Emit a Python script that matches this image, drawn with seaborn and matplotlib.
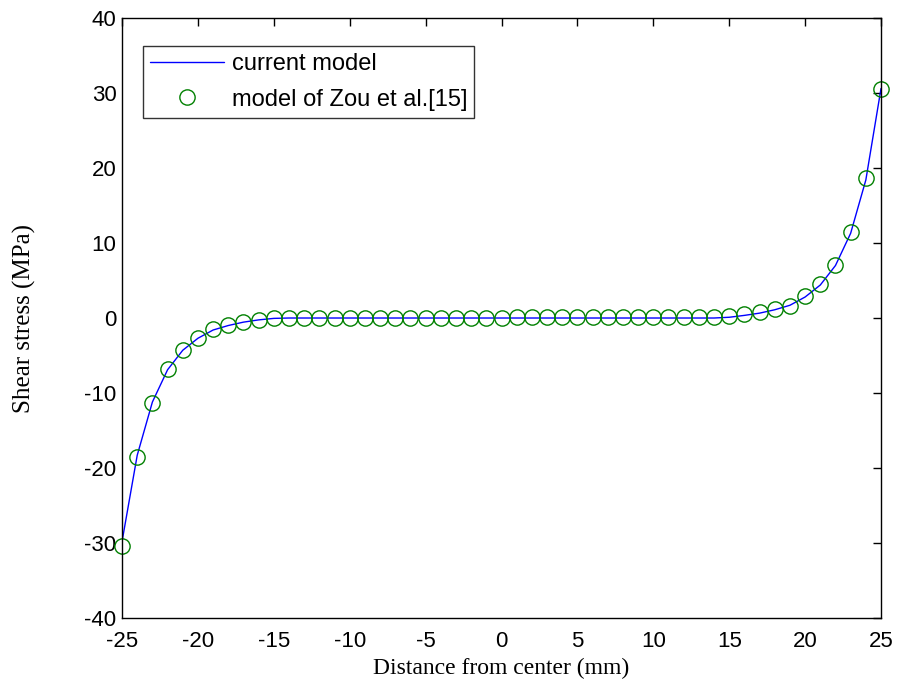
import numpy as np
import pandas as pd
import seaborn as sns
import matplotlib.pyplot as plt

# distance from center (mm)
distance = list(range(-25, 26))

# shear stress of the current model (MPa)
current_model = [-29.8, -18.3, -11.2, -6.9, -4.3, -2.7, -1.6, -1.0, -0.55, -0.25,
                 -0.05, 0.0, 0.0, 0.0, 0.0, 0.0, 0.0, 0.0, 0.0, 0.0,
                 0.0, 0.0, 0.0, 0.0, 0.0, 0.0, 0.0, 0.0, 0.0, 0.0,
                 0.0, 0.0, 0.0, 0.0, 0.0, 0.0, 0.0, 0.0, 0.0, 0.0,
                 0.1, 0.35, 0.65, 1.1, 1.7, 2.8, 4.4, 7.0, 11.3, 18.4, 30.6]

# shear stress of the model of Zou et al. (MPa)
zou_model = [-30.4, -18.5, -11.3, -6.8, -4.3, -2.6, -1.5, -0.95, -0.5, -0.2,
             0.0, 0.05, 0.05, 0.05, 0.05, 0.05, 0.05, 0.05, 0.05, 0.05,
             0.05, 0.05, 0.05, 0.05, 0.05, 0.05, 0.1, 0.1, 0.1, 0.1,
             0.1, 0.1, 0.1, 0.1, 0.1, 0.1, 0.1, 0.1, 0.1, 0.1,
             0.3, 0.5, 0.75, 1.2, 1.65, 2.9, 4.5, 7.05, 11.5, 18.7, 30.6]

df = pd.DataFrame({'distance': distance, 'current': current_model, 'zou': zou_model})

sns.set_style("white")
plt.rcParams['font.family'] = ['Liberation Sans', 'DejaVu Sans']
plt.rcParams['axes.unicode_minus'] = False
plt.rcParams['text.color'] = 'black'
plt.rcParams['axes.labelcolor'] = 'black'

fig = plt.figure(figsize=(9, 6.85), dpi=100)
ax = fig.add_axes([0.1356, 0.0978, 0.8433, 0.8759])

sns.lineplot(data=df, x='distance', y='current', ax=ax, color=(0, 0, 1), linewidth=1,
             label='current model')
ax.plot(df['distance'], df['zou'], linestyle='none', marker='o', markersize=11,
        markerfacecolor='none', markeredgecolor=(0, 0.5, 0), markeredgewidth=1,
        clip_on=False, label='model of Zou et al.[15]')

ax.set_xlim(-25, 25)
ax.set_ylim(-40, 40)
ax.set_xticks(range(-25, 26, 5))
ax.set_yticks(range(-40, 41, 10))
ax.tick_params(direction='in', length=6, width=1, top=True, right=True,
               labelsize=16, colors='black', pad=4)
ax.tick_params(axis='x', pad=9)
for s in ax.spines.values():
    s.set_visible(True)
    s.set_color('black')
    s.set_linewidth(1)

ax.set_xlabel('Distance from center (mm)', family='Liberation Serif', fontsize=17)
ax.set_ylabel('Shear stress (MPa)', family='Liberation Serif', fontsize=18)
ax.xaxis.set_label_coords(0.5, -0.066)
ax.yaxis.set_label_coords(-0.114, 0.5)

leg = ax.legend(loc='upper left', bbox_to_anchor=(0.028, 0.953), fontsize=17,
                frameon=True, fancybox=False, handlelength=3.1, borderpad=0.3,
                labelspacing=0.56, handletextpad=0.35, borderaxespad=0)
leg.get_frame().set_edgecolor('black')
leg.get_frame().set_linewidth(1)

plt.savefig('out.png', dpi=100)
